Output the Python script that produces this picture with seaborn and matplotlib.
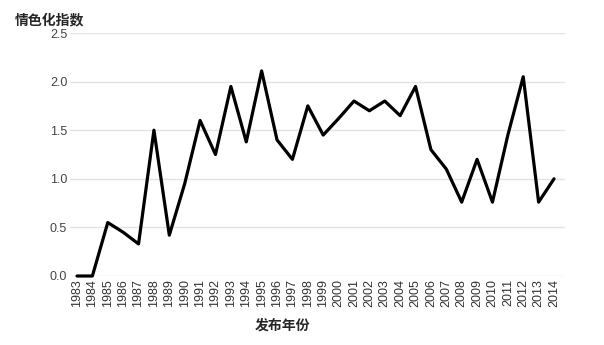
import matplotlib
matplotlib.use("Agg")
import matplotlib.pyplot as plt
import seaborn as sns
import pandas as pd

years = list(range(1983, 2015))
values = [0, 0, 0.55, 0.45, 0.33, 1.5, 0.42, 0.95, 1.6, 1.25, 1.95, 1.38, 2.11,
          1.4, 1.2, 1.75, 1.45, 1.62, 1.8, 1.7, 1.8, 1.65, 1.95, 1.3, 1.1, 0.76,
          1.2, 0.76, 1.45, 2.05, 0.76, 1.0]
yticks = [0.0, 0.5, 1.0, 1.5, 2.0, 2.5]
ylabel = "情色化指数"
xlabel = "发布年份"

sns.set_theme(style="white")
plt.rcParams['font.family'] = ['Noto Sans CJK SC', 'DejaVu Sans']

df = pd.DataFrame({"year": years, "value": values})

fig = plt.figure(figsize=(6.04, 3.45), dpi=100)
ax = fig.add_axes([70/604, 1-276/345, (565-70)/604, (276-33)/345])

for y in yticks:
    ax.axhline(y, color="#e3e3e3", lw=1, zorder=0)

sns.lineplot(data=df, x="year", y="value", ax=ax, color="black", lw=2.3,
             clip_on=False, zorder=3)

ax.set_xlim(1983 - 7/15.4, 2014 + 11/15.4)
ax.set_ylim(0, 2.5)
ax.set_xticks(years)
ax.set_xticklabels([str(y) for y in years], rotation=90, fontsize=9, color="#333333",
                   family=['Liberation Sans', 'DejaVu Sans'])
ax.set_yticks(yticks)
ax.set_yticklabels([f"{v:.1f}" for v in yticks], fontsize=9, color="#444444",
                   family=['Liberation Sans', 'DejaVu Sans'])
ax.tick_params(axis="both", length=0, pad=2)
for s in ax.spines.values():
    s.set_visible(False)
ax.set_xlabel("")
ax.set_ylabel("")

fig.text(15/604, 1-20/345, ylabel, fontsize=10, fontweight="bold", va="center", ha="left")
fig.text(282/604, 1-326/345, xlabel, fontsize=10, fontweight="bold", va="center", ha="center")

fig.savefig("out.png", dpi=100)
